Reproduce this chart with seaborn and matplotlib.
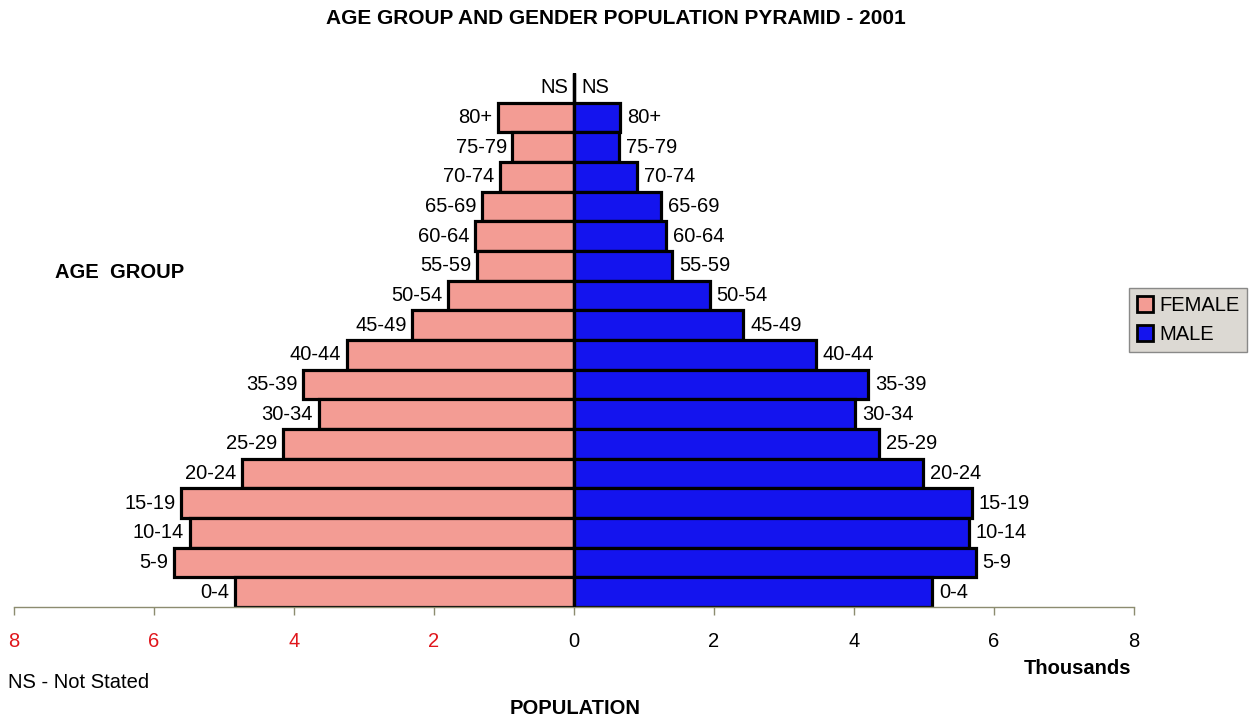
import matplotlib
matplotlib.use("Agg")
import matplotlib.pyplot as plt
import seaborn as sns
import pandas as pd
from matplotlib.patches import Patch

age_groups = ["NS", "80+", "75-79", "70-74", "65-69", "60-64", "55-59", "50-54",
              "45-49", "40-44", "35-39", "30-34", "25-29", "20-24", "15-19",
              "10-14", "5-9", "0-4"]
female = [0.0, 1.09, 0.88, 1.06, 1.31, 1.41, 1.39, 1.80, 2.31, 3.25, 3.87,
          3.65, 4.16, 4.74, 5.61, 5.49, 5.71, 4.84]
male = [0.0, 0.66, 0.64, 0.90, 1.24, 1.32, 1.40, 1.94, 2.42, 3.45, 4.20,
        4.02, 4.36, 4.98, 5.68, 5.64, 5.74, 5.12]
xticks = [-8, -6, -4, -2, 0, 2, 4, 6, 8]
xtick_labels = ["8", "6", "4", "2", "0", "2", "4", "6", "8"]

sns.set_theme(style="white")
plt.rcParams["font.family"] = ["Liberation Sans", "DejaVu Sans"]
plt.rcParams["text.color"] = "black"
plt.rcParams["xtick.color"] = "black"

FEM_C = "#F39C94"
MALE_C = "#1414EE"
AX_C = "#8C8C70"

df = pd.DataFrame({
    "age": age_groups * 2,
    "pop": [-v for v in female] + male,
    "gender": ["FEMALE"] * len(age_groups) + ["MALE"] * len(age_groups),
})

fig = plt.figure(figsize=(12.59, 7.21), dpi=100)
ax = fig.add_axes([14 / 1259, 1 - 607 / 721, 1120 / 1259, (607 - 73) / 721])

sns.barplot(data=df, x="pop", y="age", hue="gender", order=age_groups,
            hue_order=["FEMALE", "MALE"],
            palette={"FEMALE": FEM_C, "MALE": MALE_C}, saturation=1,
            dodge=False, width=1.0, orient="h", edgecolor="black",
            linewidth=2.3, legend=False, ax=ax)

for i, cat in enumerate(age_groups):
    ax.annotate(cat, xy=(-female[i], i), xytext=(-4, 0), textcoords="offset points",
                ha="right", va="center", fontsize=14.5, color="black")
    ax.annotate(cat, xy=(male[i], i), xytext=(5, 0), textcoords="offset points",
                ha="left", va="center", fontsize=14.5, color="black")

ax.axvline(0, color="black", lw=2.3, zorder=5)

ax.set_xlim(-8, 8)
ax.set_ylim(len(age_groups) - 0.5, -0.5)
ax.set_yticks([])
ax.set_ylabel("")
ax.set_xlabel("")
ax.set_xticks(xticks)
ax.set_xticklabels(xtick_labels, fontsize=14.5)
for lbl, v in zip(ax.get_xticklabels(), xticks):
    lbl.set_color("#E0161C" if v < 0 else "black")
ax.tick_params(axis="x", bottom=True, direction="out", length=6, width=1,
               color=AX_C, pad=12)
for s in ["top", "left", "right"]:
    ax.spines[s].set_visible(False)
ax.spines["bottom"].set_color(AX_C)
ax.spines["bottom"].set_linewidth(1)

fig.text(616 / 1259, 1 - 18 / 721, "AGE GROUP AND GENDER POPULATION PYRAMID - 2001",
         ha="center", va="center", fontsize=15, fontweight="bold", color="black")
fig.text(55 / 1259, 1 - 272 / 721, "AGE  GROUP", ha="left", va="center",
         fontsize=14.5, fontweight="bold", color="black")
fig.text(1131 / 1259, 1 - 668 / 721, "Thousands", ha="right", va="center",
         fontsize=14.5, fontweight="bold", color="black")
fig.text(8 / 1259, 1 - 683 / 721, "NS - Not Stated", ha="left", va="center",
         fontsize=14.5, color="black")
fig.text(575 / 1259, 1 - 708 / 721, "POPULATION", ha="center", va="center",
         fontsize=14.5, fontweight="bold", color="black")

handles = [Patch(facecolor=FEM_C, edgecolor="black", linewidth=2),
           Patch(facecolor=MALE_C, edgecolor="black", linewidth=2)]
leg = fig.legend(handles, ["FEMALE", "MALE"], loc="center",
                 bbox_to_anchor=(1188 / 1259, 1 - 320 / 721),
                 fontsize=14.5, frameon=True, fancybox=False,
                 handlelength=0.8, handleheight=0.8, handletextpad=0.3,
                 borderpad=0.4, labelspacing=0.5, borderaxespad=0)
for t in leg.get_texts():
    t.set_color("black")
leg.get_frame().set_facecolor("#D4D0C8")
leg.get_frame().set_edgecolor("#707070")
leg.get_frame().set_linewidth(1)

fig.savefig("out.png", dpi=100)
